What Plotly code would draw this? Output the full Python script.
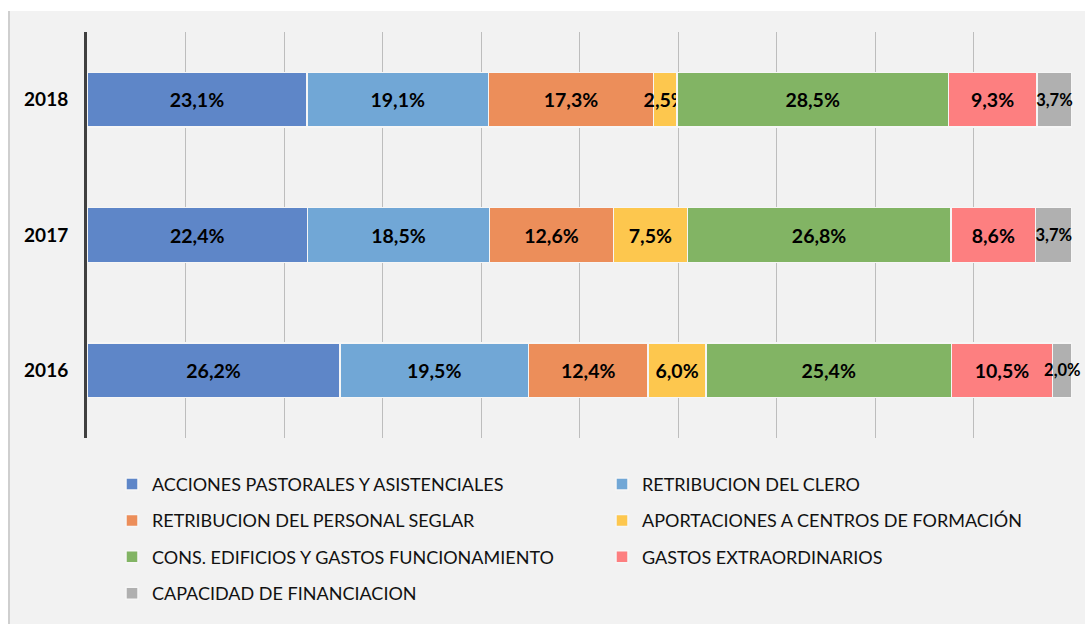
import plotly.graph_objects as go

years = ["2016", "2017", "2018"]
series_names = [
    "ACCIONES PASTORALES Y ASISTENCIALES",
    "RETRIBUCION DEL CLERO",
    "RETRIBUCION DEL PERSONAL SEGLAR",
    "APORTACIONES A CENTROS DE FORMACIÓN",
    "CONS. EDIFICIOS Y GASTOS FUNCIONAMIENTO",
    "GASTOS EXTRAORDINARIOS",
    "CAPACIDAD DE FINANCIACION",
]
acciones = [26.2, 22.4, 23.1]
clero = [19.5, 18.5, 19.1]
seglar = [12.4, 12.6, 17.3]
aportaciones = [6.0, 7.5, 2.5]
edificios = [25.4, 26.8, 28.5]
extraordinarios = [10.5, 8.6, 9.3]
capacidad = [2.0, 3.7, 3.7]
series_values = [acciones, clero, seglar, aportaciones, edificios, extraordinarios, capacidad]
colors = ["#5E86C8", "#71A7D6", "#EC8E5A", "#FDC74E", "#82B464", "#FD7F80", "#B0B0B0"]
x_ticks = [0, 10, 20, 30, 40, 50, 60, 70, 80, 90, 100]

# plot area in pixels
L, R, T, B = 87, 1072, 32, 440
W, H = R - L, B - T
def px_x(p):
    return (p - L) / W
def px_y(p):
    return (B - p) / H

fig = go.Figure()
for i, (name, vals, col) in enumerate(zip(series_names, series_values, colors)):
    fig.add_trace(go.Bar(
        y=years, x=vals, orientation="h", name=name,
        marker=dict(color=col, line=dict(color="#f6f6f6", width=1.5)),
        width=0.405,
        text=[f"{v:.1f}".replace(".", ",") + "%" for v in vals],
        textposition="inside", insidetextanchor="middle", textangle=0,
        constraintext="none", cliponaxis=False,
        textfont=dict(family="Lato", size=16.5 if i == 6 else 19.5, color="#000000", weight="bold"),
        legend="legend" if i % 2 == 0 else "legend2",
        legendgroup=f"g{i}",
        hoverinfo="skip",
    ))

legend_common = dict(
    orientation="v", traceorder="grouped", tracegroupgap=10,
    font=dict(family="Lato", size=18, color="#111111"),
    bgcolor="rgba(0,0,0,0)", yanchor="top", xanchor="left",
    itemclick=False, itemdoubleclick=False,
)

fig.update_layout(
    width=1085, height=624,
    margin=dict(l=L, r=1085 - R, t=T, b=624 - B, pad=0),
    barmode="stack", barnorm="percent",
    paper_bgcolor="#f2f2f2", plot_bgcolor="rgba(0,0,0,0)",
    showlegend=True,
    legend=dict(x=px_x(112), y=px_y(468), **legend_common),
    legend2=dict(x=px_x(602), y=px_y(468), **legend_common),
    xaxis=dict(range=[0, 100], tickvals=x_ticks, showticklabels=False,
               showgrid=True, gridcolor="#bdbdbd", gridwidth=1, zeroline=False,
               showline=False),
    yaxis=dict(type="category", categoryorder="array", categoryarray=years,
               range=[-0.5, 2.5], showgrid=False, showline=True,
               linecolor="#404040", linewidth=3, ticks="",
               ticklabelstandoff=12,
               tickfont=dict(family="Lato", size=19, color="#000000", weight="bold")),
    shapes=[
        dict(type="rect", xref="paper", yref="paper", x0=px_x(-5), x1=px_x(1090),
             y0=px_y(11), y1=px_y(-5), fillcolor="#ffffff", line=dict(width=0), layer="above"),
        dict(type="rect", xref="paper", yref="paper", x0=px_x(-5), x1=px_x(8),
             y0=px_y(630), y1=px_y(-5), fillcolor="#ffffff", line=dict(width=0), layer="above"),
        dict(type="line", xref="paper", yref="paper", x0=px_x(9), x1=px_x(9),
             y0=px_y(630), y1=px_y(11), line=dict(color="#cfcfcf", width=2), layer="above"),
    ],
)

fig.write_html(
    "out.html",
    config={"displayModeBar": False},
    post_script="document.body.style.margin='0';document.body.style.overflow='hidden';",
)
